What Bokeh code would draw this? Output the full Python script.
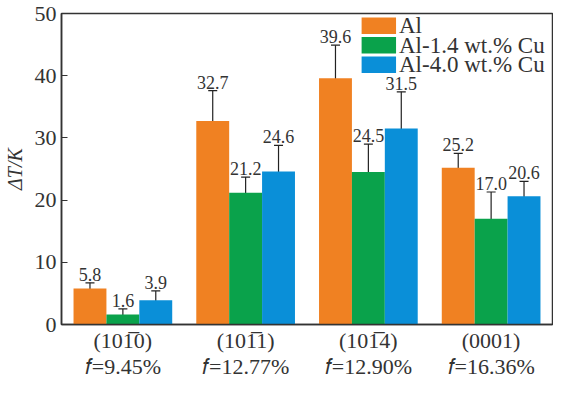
from bokeh.plotting import figure
from bokeh.models import (ColumnDataSource, FixedTicker, Whisker, TeeHead, Range1d, LinearAxis,
                          BoxAnnotation, Label)
from bokeh.core.properties import value
from bokeh.embed import file_html
from bokeh.resources import INLINE

planes = ["(101\u03050)", "(101\u03051)", "(101\u03054)", "(0001)"]
f_labels = ["\U0001D453=9.45%", "\U0001D453=12.77%", "\U0001D453=12.90%", "\U0001D453=16.36%"]
series = ["Al", "Al-1.4 wt.% Cu", "Al-4.0 wt.% Cu"]
al = [5.8, 32.7, 39.6, 25.2]
al_err = [0.9, 4.9, 5.3, 2.3]
cu14 = [1.6, 21.2, 24.5, 17.0]
cu14_err = [0.9, 2.5, 4.5, 4.3]
cu40 = [3.9, 24.6, 31.5, 20.6]
cu40_err = [1.5, 4.2, 5.9, 2.4]
y_ticks = [0, 10, 20, 30, 40, 50]

colors = ["#F08122", "#0AA24B", "#0A8FD8"]
offsets = [-0.268, 0.0, 0.268]
width = 0.268
FONT = "Liberation Serif"
TXT = "#333333"

X0, X1, Y0, Y1 = -0.5, 3.5, 0, 50
W, H = 553, 381
TOP = 13

p = figure(width=W, height=H, output_backend="svg", toolbar_location=None,
           x_range=Range1d(X0, X1), y_range=Range1d(Y0, Y1),
           min_border_left=50, min_border_top=TOP, min_border_right=1, min_border_bottom=0)
p.xgrid.visible = False
p.ygrid.visible = False
p.outline_line_color = TXT
p.outline_line_width = 1.5
p.background_fill_color = "white"

for vals, errs, col, off in zip([al, cu14, cu40], [al_err, cu14_err, cu40_err], colors, offsets):
    xs = [i + off for i in range(len(vals))]
    src = ColumnDataSource(dict(x=xs, top=vals, upper=[v + e for v, e in zip(vals, errs)],
                                lower=[v - e for v, e in zip(vals, errs)],
                                txt=[f"{v:.1f}" for v in vals]))
    p.vbar(x="x", top="top", width=width, bottom=0, source=src, fill_color=col, line_color=None)
    w = Whisker(base="x", upper="upper", lower="lower", source=src, line_color="#222222", line_width=1.2,
                upper_head=TeeHead(size=9, line_color="#222222", line_width=1.2),
                lower_head=TeeHead(size=9, line_color="#222222", line_width=1.2))
    p.add_layout(w)
    p.text(x="x", y="upper", text="txt", source=src, text_align="center", text_baseline="bottom",
           y_offset=-2, text_font=value(FONT), text_font_size="18px", text_color=TXT)

# approximate pixel scale of the frame, used to place the legend
frame_w = 499.0
frame_h = 303.0
ppx = frame_w / (X1 - X0)
ppy = frame_h / (Y1 - Y0)

# manual legend (offsets in px from the frame's top-right corner)
for k, (name, col) in enumerate(zip(series, colors)):
    top_px = 4 + 19 * k
    p.add_layout(BoxAnnotation(left=X1 - 194 / ppx, right=X1 - 159 / ppx,
                               top=Y1 - top_px / ppy, bottom=Y1 - (top_px + 16) / ppy,
                               fill_color=col, fill_alpha=1, line_color=None))
    p.add_layout(Label(x=X1 - 156 / ppx, y=Y1 - (top_px + 8) / ppy, text=name,
                       text_font=FONT, text_font_size="23px", text_color=TXT,
                       text_baseline="middle", text_align="left"))

cat_ticks = list(range(len(planes)))
p.xaxis.ticker = FixedTicker(ticks=cat_ticks)
p.xaxis.major_label_overrides = {i: pl for i, pl in enumerate(planes)}
p.xaxis.major_tick_in = 0
p.xaxis.major_tick_out = 0
p.xaxis.minor_tick_in = 0
p.xaxis.minor_tick_out = 0
p.xaxis.major_tick_line_color = None
p.xaxis.minor_tick_line_color = None
p.xaxis.axis_line_color = TXT
p.xaxis.axis_line_width = 1.5
p.xaxis.major_label_text_font = FONT
p.xaxis.major_label_text_font_size = "22px"
p.xaxis.major_label_text_color = TXT
p.xaxis.major_label_standoff = 3

ax2 = LinearAxis(ticker=FixedTicker(ticks=cat_ticks),
                 major_label_overrides={i: fl for i, fl in enumerate(f_labels)},
                 major_tick_in=0, major_tick_out=0, minor_tick_in=0, minor_tick_out=0,
                 major_tick_line_color=None, minor_tick_line_color=None, axis_line_color=None,
                 major_label_text_font=FONT, major_label_text_font_size="22px",
                 major_label_text_color=TXT, major_label_standoff=-2)
p.add_layout(ax2, "below")

p.yaxis.ticker = FixedTicker(ticks=y_ticks)
p.yaxis.major_tick_in = 6
p.yaxis.major_tick_out = 0
p.yaxis.minor_tick_line_color = None
p.yaxis.axis_line_color = TXT
p.yaxis.axis_line_width = 1.5
p.yaxis.major_tick_line_color = TXT
p.yaxis.major_label_text_font = FONT
p.yaxis.major_label_text_font_size = "22px"
p.yaxis.major_label_text_color = TXT
p.yaxis.major_label_standoff = 5
p.yaxis.axis_label = "\u0394T/K"
p.yaxis.axis_label_text_font = FONT
p.yaxis.axis_label_text_font_style = "italic"
p.yaxis.axis_label_text_font_size = "20px"
p.yaxis.axis_label_text_color = TXT
p.yaxis.axis_label_standoff = 6

open("out.html", "w").write(file_html(p, INLINE))
